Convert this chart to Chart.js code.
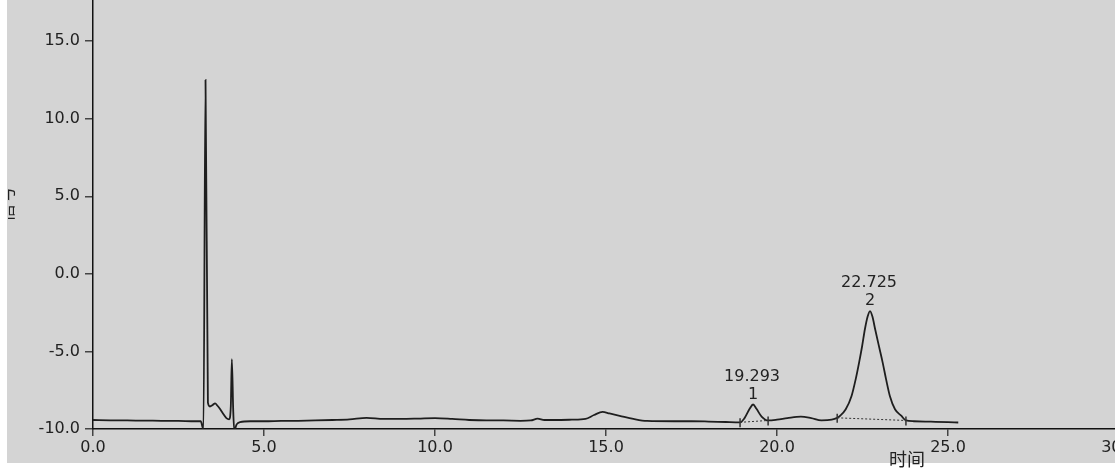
<!DOCTYPE html>
<html>
<head>
<meta charset="utf-8">
<script src="https://cdn.jsdelivr.net/npm/chart.js@4/dist/chart.umd.min.js"></script>
<style>
html, body { margin: 0; padding: 0; background: #fff; overflow: hidden; width: 1115px; height: 470px; }
#bg { position: absolute; left: 7px; top: 0; width: 1108px; height: 463px; background: #d4d4d4; }
#chrom { position: absolute; left: 0; top: 0; }
</style>
</head>
<body>
<div id="bg"></div>
<canvas id="chrom" width="1135" height="470"></canvas>
<script>
// retention time (min) and detector signal
var times = [0, 0.5, 1.0, 1.5, 2.0, 2.5, 3.0, 3.15, 3.2, 3.23, 3.29, 3.36, 3.42, 3.5, 3.57, 3.64, 3.71, 3.8, 3.9, 3.98,
    4.03, 4.06, 4.1, 4.13, 4.2, 4.3, 4.6, 5.0, 5.5, 6.0, 6.5, 7.0, 7.5, 8.0, 8.5, 9.0, 9.5, 10.0, 10.5, 11.0,
    11.5, 12.0, 12.5, 12.8, 13.0, 13.2, 13.5, 14.0, 14.4, 14.65, 14.9, 15.1, 15.4, 15.8, 16.2, 17.0, 17.5, 18.0, 18.5, 18.92,
    19.05, 19.2, 19.3, 19.4, 19.55, 19.74, 20.0, 20.3, 20.7, 21.0, 21.3, 21.6, 21.76, 21.84, 22.01, 22.18, 22.3, 22.4, 22.49, 22.57,
    22.65, 22.72, 22.79, 22.87, 22.99, 23.09, 23.19, 23.3, 23.45, 23.64, 23.77, 24.0, 24.5, 25.0, 25.3];
var signal = [-9.42, -9.44, -9.45, -9.46, -9.47, -9.48, -9.5, -9.5, -9.85, -10.05, 12.5, -8.3, -8.55, -8.45, -8.35, -8.5, -8.7, -9.0, -9.3, -9.38,
    -8.5, -5.5, -8.8, -10.1, -9.7, -9.55, -9.5, -9.5, -9.48, -9.47, -9.45, -9.42, -9.38, -9.28, -9.35, -9.35, -9.33, -9.3, -9.35, -9.42,
    -9.45, -9.45, -9.47, -9.45, -9.33, -9.42, -9.42, -9.4, -9.35, -9.1, -8.9, -9.0, -9.15, -9.35, -9.48, -9.5, -9.5, -9.52, -9.55, -9.57,
    -9.3, -8.7, -8.42, -8.7, -9.2, -9.45, -9.4, -9.3, -9.2, -9.3, -9.45, -9.4, -9.28, -9.16, -8.73, -7.87, -6.8, -5.72, -4.65, -3.57,
    -2.75, -2.4, -2.75, -3.57, -4.75, -5.72, -6.8, -7.87, -8.73, -9.16, -9.45, -9.5, -9.53, -9.56, -9.58];

var xTicks = [0, 5, 10, 15, 20, 25, 30];
var yTicks = [-10, -5, 0, 5, 10, 15];

// integrated peaks
var peakNames = ['1', '2'];
var peakLabels = ['19.293', '22.725'];
var peakTimes = [19.3, 22.72];
var peakApex = [-8.42, -2.4];
var peakStartT = [18.92, 21.76];
var peakStartV = [-9.57, -9.28];
var peakEndT = [19.74, 23.77];
var peakEndV = [-9.45, -9.45];

var xTitle = '时间';
var yTitle = '信号';

var points = [];
for (var i = 0; i < times.length; i++) points.push({ x: times[i], y: signal[i] });

var tickFont = { family: 'DejaVu Sans', size: 16 };

var peakPlugin = {
    id: 'peaks',
    afterDatasetsDraw: function (chart) {
        var ctx = chart.ctx;
        var xs = chart.scales.x, ys = chart.scales.y;
        ctx.save();
        ctx.strokeStyle = '#333';
        for (var i = 0; i < peakNames.length; i++) {
            var x1 = xs.getPixelForValue(peakStartT[i]), y1 = ys.getPixelForValue(peakStartV[i]);
            var x2 = xs.getPixelForValue(peakEndT[i]), y2 = ys.getPixelForValue(peakEndV[i]);
            // dotted baseline
            ctx.lineWidth = 1;
            ctx.setLineDash([2, 2]);
            ctx.beginPath(); ctx.moveTo(x1, y1); ctx.lineTo(x2, y2); ctx.stroke();
            ctx.setLineDash([]);
            // start / end markers
            ctx.lineWidth = 1.5;
            ctx.beginPath();
            ctx.moveTo(x1, y1 - 4); ctx.lineTo(x1, y1 + 5);
            ctx.moveTo(x2, y2 - 4); ctx.lineTo(x2, y2 + 5);
            ctx.stroke();
            // labels
            var px = xs.getPixelForValue(peakTimes[i]), py = ys.getPixelForValue(peakApex[i]);
            ctx.fillStyle = '#222';
            ctx.font = '16px "DejaVu Sans"';
            ctx.textAlign = 'center';
            ctx.textBaseline = 'middle';
            ctx.fillText(peakNames[i], px, py - 10);
            ctx.fillText(peakLabels[i], px - 1, py - 28);
        }
        // axis titles
        ctx.fillStyle = '#222';
        ctx.font = '18px "Noto Sans CJK SC"';
        ctx.textAlign = 'center';
        ctx.textBaseline = 'middle';
        ctx.fillText(xTitle, 907, 459);
        ctx.beginPath(); ctx.rect(8, 0, 40, 470); ctx.clip();
        ctx.translate(6, 204);
        ctx.rotate(-Math.PI / 2);
        ctx.fillText(yTitle, 0, 0);
        ctx.restore();
    }
};

new Chart(document.getElementById('chrom').getContext('2d'), {
    type: 'line',
    data: {
        datasets: [{
            data: points,
            borderColor: '#1e1e1e',
            borderWidth: 1.8,
            pointRadius: 0,
            cubicInterpolationMode: 'monotone',
            fill: false
        }]
    },
    options: {
        responsive: false,
        animation: false,
        events: [],
        layout: { padding: { left: 0, right: 16, top: 0, bottom: 0 } },
        plugins: { legend: { display: false }, tooltip: { enabled: false } },
        scales: {
            x: {
                type: 'linear',
                min: 0,
                max: 30,
                afterBuildTicks: function (s) { s.ticks = xTicks.map(function (v) { return { value: v }; }); },
                afterFit: function (s) { s.height = 41; s.paddingLeft = 0; s.paddingRight = 0; },
                ticks: { color: '#222', font: tickFont, padding: 2, maxRotation: 0, autoSkip: false,
                    callback: function (v) { return v.toFixed(1); } },
                grid: { drawOnChartArea: false, drawTicks: true, tickLength: 7, color: '#444', lineWidth: 1.5 },
                border: { display: true, color: '#111', width: 1.5 }
            },
            y: {
                min: -10,
                max: 17.65,
                afterBuildTicks: function (s) { s.ticks = yTicks.map(function (v) { return { value: v }; }); },
                afterFit: function (s) { s.width = 93; s.paddingTop = 0; s.paddingBottom = 0; },
                ticks: { color: '#222', font: tickFont, padding: 5, autoSkip: false,
                    callback: function (v) { return v.toFixed(1); } },
                grid: { drawOnChartArea: false, drawTicks: true, tickLength: 8, color: '#444', lineWidth: 1.5 },
                border: { display: true, color: '#111', width: 1.5 }
            }
        }
    },
    plugins: [peakPlugin]
});
</script>
</body>
</html>
